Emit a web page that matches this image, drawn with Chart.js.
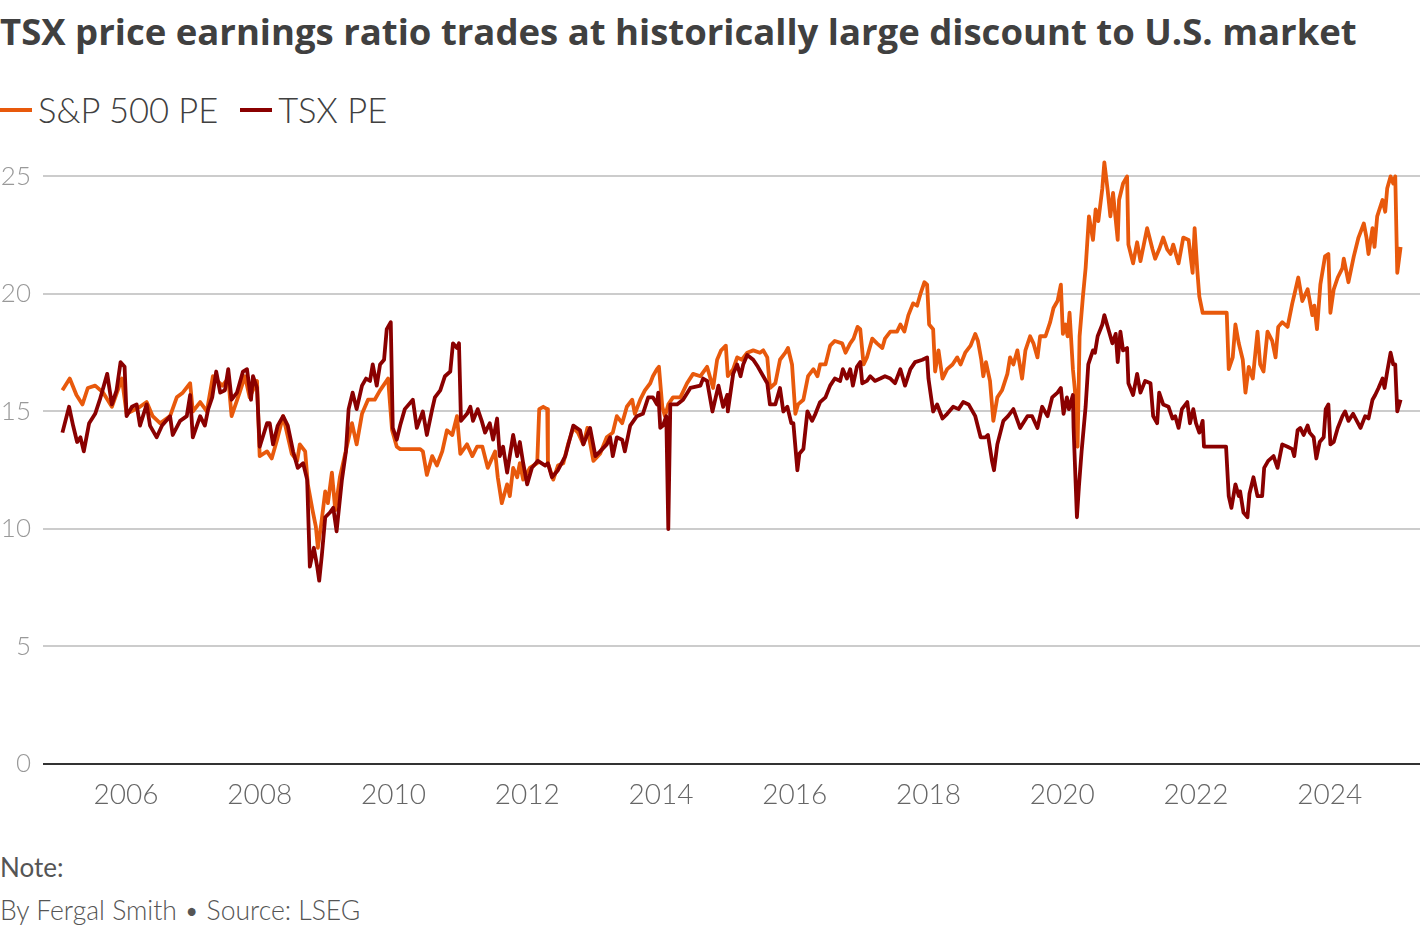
<!DOCTYPE html>
<html>
<head>
<meta charset="utf-8">
<script src="https://cdn.jsdelivr.net/npm/chart.js@4.4.1/dist/chart.umd.min.js"></script>
<style>
  body { margin: 0; width: 1420px; height: 926px; background: #fff; position: relative; overflow: hidden;
         font-family: Lato, 'Open Sans', sans-serif; }
  #title { position: absolute; left: 0; top: 6px; font-family: 'Open Sans', Lato, sans-serif; font-size: 36.5px;
           font-weight: 700; color: #404040; white-space: nowrap; }
  #legend { position: absolute; left: 0; top: 89px; display: flex; font-size: 34.5px; font-weight: 300; color: #404040; }
  .item { display: flex; align-items: center; margin-right: 22px; }
  .swatch { width: 32px; height: 4px; margin-right: 6px; }
  #chart-wrap { position: absolute; left: 0; top: 123px; }
  #note { position: absolute; left: 0; top: 851px; font-size: 26px; color: #555; }
  #byline { position: absolute; left: 0; top: 894px; font-size: 26.5px; font-weight: 300; color: #555; }
</style>
</head>
<body>
<div id="title">TSX price earnings ratio trades at historically large discount to U.S. market</div>
<div id="legend">
  <div class="item"><span class="swatch" style="background:#e8590c"></span>S&amp;P 500 PE</div>
  <div class="item"><span class="swatch" style="background:#8a0000"></span>TSX PE</div>
</div>
<div id="chart-wrap"><canvas id="peChart" width="1420" height="707"></canvas></div>
<div id="note">Note:</div>
<div id="byline">By Fergal Smith • Source: LSEG</div>

<script>
// [decimal year, price/earnings]
const spPE = [
  [2005.05,15.9],[2005.16,16.4],[2005.26,15.7],[2005.35,15.3],[2005.43,16.0],[2005.54,16.1],[2005.66,15.8],[2005.79,15.2],[2005.94,16.4],
  [2006.01,14.9],[2006.21,15.2],[2006.31,15.4],[2006.40,14.8],[2006.51,14.5],[2006.66,14.8],[2006.76,15.6],[2006.85,15.8],[2006.96,16.2],
  [2007.00,15.0],[2007.11,15.4],[2007.21,15.0],[2007.30,16.5],[2007.44,16.1],[2007.53,16.4],[2007.58,14.8],[2007.70,15.8],[2007.78,16.5],[2007.85,15.6],[2007.96,16.3],
  [2008.00,13.1],[2008.11,13.3],[2008.18,13.0],[2008.26,13.8],[2008.35,14.8],[2008.48,13.2],[2008.56,12.9],[2008.60,13.6],[2008.68,13.3],[2008.72,11.9],[2008.79,10.8],[2008.84,10.1],[2008.87,9.2],[2008.92,10.2],[2008.98,11.6],
  [2009.02,11.1],[2009.08,12.4],[2009.13,10.8],[2009.20,12.2],[2009.31,13.6],[2009.38,14.5],[2009.45,13.6],[2009.53,14.9],[2009.62,15.5],[2009.72,15.5],[2009.80,15.9],[2009.92,16.4],[2009.98,14.2],
  [2010.05,13.5],[2010.10,13.4],[2010.40,13.4],[2010.44,13.3],[2010.50,12.3],[2010.58,13.1],[2010.65,12.7],[2010.73,13.3],[2010.80,14.2],[2010.88,14.0],[2010.95,14.8],
  [2011.00,13.2],[2011.10,13.6],[2011.18,13.1],[2011.25,13.5],[2011.33,13.5],[2011.41,12.6],[2011.52,13.3],[2011.56,12.2],[2011.62,11.1],[2011.70,11.9],[2011.74,11.4],[2011.79,12.6],[2011.85,12.2],[2011.89,12.8],[2011.94,12.1],
  [2012.04,12.6],[2012.15,12.8],[2012.18,15.1],[2012.24,15.2],[2012.30,15.1],[2012.31,12.8],[2012.39,12.1],[2012.46,12.7],[2012.54,12.8],[2012.61,13.6],[2012.69,14.3],[2012.76,14.1],[2012.84,13.6],[2012.90,14.3],[2012.99,12.9],
  [2013.09,13.2],[2013.19,13.9],[2013.28,14.1],[2013.34,14.8],[2013.42,14.5],[2013.49,15.2],[2013.57,15.5],[2013.61,14.9],[2013.69,15.5],[2013.76,15.9],[2013.84,16.2],[2013.88,16.5],[2013.94,16.8],[2013.97,16.9],
  [2014.02,15.2],[2014.06,14.8],[2014.11,15.3],[2014.18,15.6],[2014.29,15.6],[2014.39,16.2],[2014.48,16.6],[2014.59,16.5],[2014.69,16.9],[2014.78,16.0],[2014.84,17.2],[2014.90,17.6],[2014.97,17.8],
  [2015.00,16.5],[2015.08,16.8],[2015.14,17.3],[2015.21,17.2],[2015.29,17.5],[2015.38,17.6],[2015.48,17.5],[2015.53,17.6],[2015.59,17.3],[2015.63,16.0],[2015.71,16.2],[2015.78,17.2],[2015.86,17.5],[2015.90,17.7],[2015.96,17.0],
  [2016.01,14.9],[2016.05,15.3],[2016.13,15.5],[2016.20,16.5],[2016.28,16.8],[2016.34,16.5],[2016.38,17.0],[2016.46,17.0],[2016.53,17.8],[2016.60,18.0],[2016.71,17.9],[2016.76,17.5],[2016.83,17.9],[2016.88,18.1],[2016.94,18.6],[2016.98,18.5],
  [2017.03,17.0],[2017.08,17.3],[2017.16,18.1],[2017.23,17.9],[2017.31,17.7],[2017.35,18.1],[2017.43,18.4],[2017.53,18.4],[2017.58,18.7],[2017.64,18.4],[2017.70,19.1],[2017.77,19.6],[2017.83,19.5],[2017.88,20.0],[2017.94,20.5],[2017.98,20.4],
  [2018.01,18.7],[2018.07,18.5],[2018.10,16.7],[2018.15,17.6],[2018.21,16.4],[2018.28,16.8],[2018.36,17.0],[2018.43,17.3],[2018.48,17.0],[2018.55,17.5],[2018.63,17.8],[2018.70,18.3],[2018.74,18.0],[2018.79,17.2],[2018.82,16.5],[2018.86,17.1],[2018.92,16.3],[2018.97,14.6],
  [2019.03,15.6],[2019.10,15.9],[2019.18,16.6],[2019.22,17.3],[2019.27,17.0],[2019.33,17.6],[2019.40,16.4],[2019.45,17.6],[2019.52,18.2],[2019.57,17.9],[2019.63,17.3],[2019.67,18.2],[2019.75,18.2],[2019.82,18.8],[2019.87,19.4],[2019.93,19.7],[2019.98,20.4],
  [2020.01,18.3],[2020.05,18.7],[2020.08,18.2],[2020.11,19.2],[2020.16,16.8],[2020.19,15.9],[2020.23,13.5],[2020.26,18.2],[2020.31,19.9],[2020.35,21.1],[2020.40,23.3],[2020.46,22.3],[2020.50,23.6],[2020.54,23.1],[2020.60,24.5],[2020.63,25.6],[2020.68,24.4],[2020.72,23.3],[2020.76,24.3],[2020.83,22.3],[2020.85,24.0],[2020.91,24.7],[2020.97,25.0],[2020.99,22.1],
  [2021.06,21.3],[2021.12,22.2],[2021.17,21.4],[2021.27,22.8],[2021.35,21.9],[2021.39,21.5],[2021.45,21.9],[2021.51,22.4],[2021.57,21.9],[2021.62,21.7],[2021.66,22.1],[2021.74,21.3],[2021.81,22.4],[2021.89,22.3],[2021.95,20.9],[2021.98,22.8],
  [2022.02,21.0],[2022.05,19.9],[2022.10,19.2],[2022.46,19.2],[2022.49,16.8],[2022.55,17.3],[2022.59,18.7],[2022.64,17.9],[2022.70,17.2],[2022.74,15.8],[2022.79,16.9],[2022.85,16.4],[2022.92,18.4],[2022.96,17.0],
  [2023.01,16.7],[2023.07,18.4],[2023.14,18.0],[2023.19,17.3],[2023.23,18.6],[2023.29,18.8],[2023.37,18.6],[2023.44,19.6],[2023.49,20.2],[2023.53,20.7],[2023.59,19.7],[2023.67,20.2],[2023.74,19.1],[2023.77,19.5],[2023.81,18.5],[2023.86,20.4],[2023.93,21.6],[2023.98,21.7],
  [2024.01,19.2],[2024.06,20.2],[2024.12,20.7],[2024.19,21.1],[2024.21,21.5],[2024.28,20.5],[2024.36,21.6],[2024.43,22.4],[2024.51,23.0],[2024.55,22.4],[2024.58,21.7],[2024.64,22.8],[2024.67,22.0],[2024.71,23.3],[2024.79,24.0],[2024.83,23.5],[2024.86,24.5],[2024.91,25.0],[2024.95,24.7],[2024.98,25.0],
  [2025.01,20.9],[2025.06,22.0]
];

const tsxPE = [
  [2005.05,14.1],[2005.15,15.2],[2005.21,14.4],[2005.27,13.7],[2005.32,13.9],[2005.37,13.3],[2005.45,14.5],[2005.54,14.9],[2005.61,15.5],[2005.72,16.6],[2005.79,15.3],[2005.86,15.9],[2005.92,17.1],[2005.98,16.9],
  [2006.01,14.8],[2006.09,15.2],[2006.16,15.3],[2006.21,14.4],[2006.31,15.3],[2006.36,14.4],[2006.46,13.9],[2006.54,14.4],[2006.66,14.8],[2006.70,14.0],[2006.81,14.6],[2006.91,14.8],[2006.96,15.7],
  [2007.00,13.9],[2007.11,14.8],[2007.18,14.4],[2007.23,15.1],[2007.29,15.6],[2007.35,16.7],[2007.41,15.8],[2007.48,15.9],[2007.53,16.8],[2007.58,15.5],[2007.66,15.8],[2007.75,16.7],[2007.81,16.8],[2007.87,15.5],[2007.90,16.5],[2007.96,16.0],
  [2008.00,13.5],[2008.11,14.5],[2008.15,14.5],[2008.20,13.6],[2008.27,14.4],[2008.35,14.8],[2008.42,14.4],[2008.50,13.3],[2008.57,12.6],[2008.65,12.8],[2008.71,12.1],[2008.75,8.4],[2008.81,9.2],[2008.86,8.4],[2008.89,7.8],[2008.93,8.9],[2008.98,10.5],
  [2009.05,10.7],[2009.10,10.9],[2009.15,9.9],[2009.23,12.1],[2009.29,13.3],[2009.33,15.1],[2009.39,15.8],[2009.45,15.1],[2009.53,16.1],[2009.59,16.4],[2009.65,16.3],[2009.69,17.0],[2009.75,16.1],[2009.80,17.0],[2009.86,17.2],[2009.90,18.5],[2009.96,18.8],[2009.99,14.3],
  [2010.05,13.8],[2010.10,14.4],[2010.17,15.1],[2010.29,15.5],[2010.35,14.3],[2010.44,15.0],[2010.50,14.0],[2010.58,15.1],[2010.62,15.6],[2010.70,15.9],[2010.77,16.5],[2010.85,16.7],[2010.89,17.9],[2010.95,17.7],[2010.98,17.9],
  [2011.01,14.6],[2011.10,14.9],[2011.15,15.2],[2011.19,14.6],[2011.26,15.1],[2011.32,14.6],[2011.37,14.1],[2011.44,14.5],[2011.49,13.8],[2011.55,14.7],[2011.59,13.1],[2011.64,13.5],[2011.70,12.4],[2011.79,14.0],[2011.85,13.1],[2011.89,13.7],[2011.94,12.8],
  [2012.00,11.9],[2012.07,12.6],[2012.16,12.9],[2012.27,12.7],[2012.31,12.8],[2012.37,12.2],[2012.46,12.5],[2012.57,13.1],[2012.69,14.4],[2012.79,14.2],[2012.84,13.6],[2012.94,14.3],
  [2013.02,13.1],[2013.09,13.3],[2013.19,13.6],[2013.24,13.9],[2013.28,13.1],[2013.34,13.9],[2013.42,13.8],[2013.46,13.3],[2013.54,14.4],[2013.64,14.8],[2013.73,14.9],[2013.81,15.6],[2013.88,15.6],[2013.94,15.3],[2013.96,15.8],[2013.99,14.3],
  [2014.03,14.4],[2014.08,14.8],[2014.11,10.0],[2014.14,15.3],[2014.24,15.3],[2014.33,15.5],[2014.44,16.0],[2014.59,16.1],[2014.63,16.4],[2014.69,16.3],[2014.77,15.0],[2014.86,16.1],[2014.93,15.2],[2014.99,15.7],
  [2015.00,15.0],[2015.08,16.6],[2015.14,17.0],[2015.19,16.5],[2015.23,17.0],[2015.29,17.4],[2015.38,17.2],[2015.45,16.9],[2015.53,16.5],[2015.59,16.2],[2015.63,15.3],[2015.71,15.3],[2015.78,16.0],[2015.83,15.0],[2015.89,15.2],[2015.95,14.5],[2015.98,14.5],
  [2016.04,12.5],[2016.07,13.2],[2016.13,13.4],[2016.19,15.0],[2016.26,14.6],[2016.31,14.9],[2016.38,15.4],[2016.46,15.6],[2016.53,16.1],[2016.60,16.4],[2016.68,16.3],[2016.72,16.8],[2016.78,16.4],[2016.83,16.8],[2016.87,16.1],[2016.93,16.9],[2016.98,17.1],
  [2017.01,16.2],[2017.08,16.3],[2017.13,16.5],[2017.20,16.3],[2017.28,16.4],[2017.35,16.5],[2017.43,16.4],[2017.50,16.2],[2017.58,16.8],[2017.65,16.1],[2017.73,16.8],[2017.80,17.1],[2017.91,17.2],[2017.98,17.3],
  [2018.00,16.4],[2018.07,15.0],[2018.13,15.3],[2018.21,14.7],[2018.28,14.9],[2018.37,15.2],[2018.45,15.1],[2018.52,15.4],[2018.60,15.3],[2018.70,14.8],[2018.78,13.9],[2018.85,13.9],[2018.89,14.0],[2018.95,12.9],[2018.98,12.5],
  [2019.03,13.6],[2019.12,14.6],[2019.19,14.8],[2019.27,15.1],[2019.37,14.3],[2019.48,14.8],[2019.55,14.8],[2019.63,14.3],[2019.70,15.2],[2019.78,14.8],[2019.85,15.6],[2019.93,15.8],[2019.98,16.0],
  [2020.02,14.9],[2020.07,15.6],[2020.10,15.1],[2020.16,15.7],[2020.17,14.3],[2020.22,10.5],[2020.25,11.8],[2020.29,13.3],[2020.35,15.2],[2020.39,17.0],[2020.46,17.6],[2020.49,17.5],[2020.53,18.2],[2020.60,18.7],[2020.63,19.1],[2020.70,18.4],[2020.75,17.9],[2020.80,18.3],[2020.83,17.1],[2020.87,18.4],[2020.91,17.6],[2020.97,17.7],[2020.99,16.2],
  [2021.06,15.7],[2021.12,16.6],[2021.17,15.8],[2021.24,16.3],[2021.32,16.2],[2021.36,14.8],[2021.42,14.5],[2021.45,15.8],[2021.51,15.3],[2021.59,15.2],[2021.65,14.7],[2021.69,14.8],[2021.74,14.3],[2021.79,15.1],[2021.87,15.4],[2021.91,14.5],[2021.96,15.1],
  [2022.00,14.5],[2022.05,14.1],[2022.10,14.6],[2022.12,13.5],[2022.45,13.5],[2022.49,11.4],[2022.53,10.9],[2022.59,11.9],[2022.64,11.4],[2022.66,11.6],[2022.71,10.7],[2022.77,10.5],[2022.80,11.5],[2022.86,12.2],[2022.92,11.4],[2022.99,11.4],
  [2023.02,12.6],[2023.08,12.9],[2023.16,13.1],[2023.22,12.6],[2023.29,13.6],[2023.37,13.5],[2023.44,13.4],[2023.47,13.1],[2023.52,14.2],[2023.56,14.3],[2023.61,14.0],[2023.67,14.4],[2023.70,14.1],[2023.76,13.9],[2023.80,13.0],[2023.85,13.7],[2023.91,13.9],[2023.94,15.1],[2023.98,15.3],
  [2024.01,13.6],[2024.06,13.7],[2024.12,14.3],[2024.19,14.8],[2024.23,15.0],[2024.28,14.6],[2024.35,14.9],[2024.46,14.3],[2024.53,14.8],[2024.58,14.7],[2024.64,15.5],[2024.68,15.7],[2024.73,16.0],[2024.79,16.4],[2024.82,16.0],[2024.86,16.7],[2024.91,17.5],[2024.95,17.0],[2024.98,17.0],
  [2025.01,15.0],[2025.06,15.5]
];

const yearTicks = [2006, 2008, 2010, 2012, 2014, 2016, 2018, 2020, 2022, 2024];
const peTicks = [0, 5, 10, 15, 20, 25];

const spColor = '#e8590c';
const tsxColor = '#8a0000';

function toPoints(series) {
  return series.map(p => ({ x: p[0], y: p[1] }));
}

const ctx = document.getElementById('peChart').getContext('2d');
new Chart(ctx, {
  type: 'line',
  data: {
    datasets: [
      {
        label: 'S&P 500 PE',
        data: toPoints(spPE),
        borderColor: spColor,
        borderWidth: 3.8,
        borderJoinStyle: 'round',
        pointRadius: 0,
        tension: 0,
        order: 1
      },
      {
        label: 'TSX PE',
        data: toPoints(tsxPE),
        borderColor: tsxColor,
        borderWidth: 3.8,
        borderJoinStyle: 'round',
        pointRadius: 0,
        tension: 0,
        order: 0
      }
    ]
  },
  options: {
    responsive: false,
    animation: false,
    layout: { padding: { top: 10, right: 0, bottom: 0, left: 0 } },
    plugins: {
      legend: { display: false },
      tooltip: { enabled: false }
    },
    scales: {
      x: {
        type: 'linear',
        min: 2004.76,
        max: 2025.35,
        grid: { display: false },
        border: { display: false },
        afterBuildTicks: function(scale) {
          scale.ticks = yearTicks.map(v => ({ value: v }));
        },
        afterFit: function(scale) {
          scale.height = 66;
        },
        ticks: {
          autoSkip: false,
          maxRotation: 0,
          padding: 6,
          color: '#666',
          font: { family: 'Lato', size: 28, weight: 300 },
          callback: function(value) {
            return String(value);
          }
        }
      },
      y: {
        min: 0,
        max: 26.1,
        border: { display: false },
        afterBuildTicks: function(scale) {
          scale.ticks = peTicks.map(v => ({ value: v }));
        },
        afterFit: function(scale) {
          scale.width = 43;
        },
        grid: {
          drawTicks: false,
          lineWidth: 2,
          color: function(c) {
            return c.tick && c.tick.value === 0 ? '#333' : '#cccccc';
          }
        },
        ticks: {
          padding: 12,
          color: '#999',
          font: { family: 'Lato', size: 26, weight: 300 }
        }
      }
    }
  }
});
</script>
</body>
</html>
